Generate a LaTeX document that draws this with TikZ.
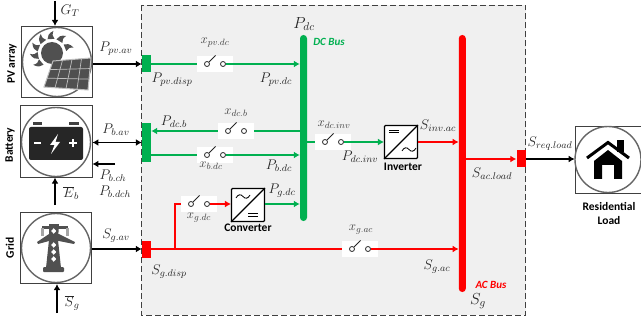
\documentclass[tikz,border=0pt]{standalone}
\usepackage{fix-cm}
\usepackage{fontspec}
\newfontfamily\iconsf{Carlito}
\usepackage{tikz}
\usetikzlibrary{calc,arrows.meta,positioning}
\definecolor{busgreen}{HTML}{00B050}
\definecolor{busred}{HTML}{FF0000}
\definecolor{panelgrey}{HTML}{F0F0F0}
\definecolor{icongrey}{HTML}{505050}

\begin{document}
\begin{tikzpicture}[x=1pt,y=-1pt]

\tikzset{iconbox/.style={draw=black!75,line width=.8pt,fill=white,minimum size=71.5pt,inner sep=0pt,shape=rectangle},
iconring/.style={draw=black!60,line width=1.4pt,fill=white,minimum size=69pt,inner sep=0pt,shape=circle},
port/.style={inner sep=0pt,minimum width=9pt,minimum height=17pt,shape=rectangle},
bus/.style={inner sep=0pt,minimum width=7pt,rounded corners=3.4pt,shape=rectangle},
swbox/.style={fill=white,inner sep=0pt,minimum width=36pt,minimum height=16pt,shape=rectangle},
contact/.style={draw=black!85,fill=white,line width=.8pt,inner sep=0pt,minimum size=5pt,shape=circle},
convbox/.style={draw=black,line width=1.2pt,fill=white,rounded corners=1pt,inner sep=0pt,minimum size=33pt,shape=rectangle},
blackflow/.style={draw=black,line width=1.4pt,-{Latex[length=6pt,width=7pt]}},
greenflow/.style={draw=busgreen,line width=1.3pt,-{Latex[length=6pt,width=7pt]}},
redflow/.style={draw=busred,line width=1.3pt,-{Latex[length=6pt,width=7pt]}},
varlabel/.style={font=\fontsize{14}{16}\selectfont,text=black!85,inner sep=0pt},
swlabel/.style={font=\fontsize{13}{15}\selectfont,text=black!75,inner sep=0pt},
sflabel/.style={font=\iconsf\bfseries\fontsize{11.5}{14}\selectfont,inner sep=0pt,align=center}}

\useasboundingbox (0,0) rectangle (641,321);

% Converter area
\draw[dashed,dash pattern=on 6pt off 3pt,line width=.8pt,draw=black!75,fill=panelgrey] (141,5) rectangle (525.5,315);

% Icon boxes
\node[iconbox] (pv) at (57,62) {};
\node[iconbox] (battery) at (56.3,141.5) {};
\node[iconbox] (grid) at (56,248) {};
\node[draw=black!75,line width=.8pt,fill=white,inner sep=0pt,minimum width=67pt,minimum height=67pt] (homebox) at (608.5,159.5) {};
\node[iconring] (pvring) at (57,62) {};
\node[iconring] (batteryring) at (56,142) {};
\node[iconring] (gridring) at (56,248) {};
\node[iconring,minimum size=66pt] (homering) at (608,159.5) {};

% Sun and solar panel
\fill[icongrey] (52,53) circle (11);
\foreach \a in {22,58,94,128,160,190,220}
  \fill[icongrey,shift={(52,53)},rotate=\a] (14,-3.5) .. controls (17,-3.5) and (20,-2) .. (22,3) .. controls (19,1.5) and (16,1.5) .. (14,3.5) -- cycle;
\coordinate (panelA) at (53,61);
\coordinate (panelB) at (91,58);
\coordinate (panelC) at (88,90);
\coordinate (panelD) at (44,87);
\draw[draw=black!25,fill=icongrey,line width=1pt] (panelA) -- (panelB) -- (panelC) -- (panelD) -- cycle;
\foreach \t in {0.25,0.5,0.75} \draw[draw=black!25,line width=.7pt] ($(panelA)!\t!(panelB)$) -- ($(panelD)!\t!(panelC)$);
\foreach \t in {0.33,0.66} \draw[draw=black!25,line width=.7pt] ($(panelA)!\t!(panelD)$) -- ($(panelB)!\t!(panelC)$);

% Battery icon
\fill[black!85,rounded corners=2pt] (29,127) rectangle (83,160);
\fill[black!75] (33,122) rectangle (42,125);
\fill[black!75] (69,122) rectangle (79,125);
\draw[white,line width=1.6pt] (34,143) -- (41,143);
\draw[white,line width=1.6pt] (69,143) -- (77,143) (73,139) -- (73,147);
\fill[white] (58,134) -- (50,145) -- (54.5,145) -- (51,154) -- (60,142) -- (55.5,142) -- cycle;

% Pylon icon
\fill[icongrey] (49,224) -- (59,224) -- (58,240) -- (61,268) -- (46,268) -- (49,240) -- cycle;
\fill[icongrey,rounded corners=1pt] (43,267) rectangle (64,272);
\fill[icongrey] (42,226) rectangle (68,229);
\fill[icongrey] (49,234) -- (59,234) -- (75,242) -- (74,244) -- (59,241) -- (49,241) -- (38,244) -- (37,242) -- cycle;
\foreach \x in {42,67} \fill[black!35] (\x-1.5,228) rectangle (\x+1.5,236);
\foreach \y in {231,245,252,259} \fill[white] (53.7,\y-2.8) -- (56.2,\y) -- (53.7,\y+2.8) -- (51.2,\y) -- cycle;

% House icon
\fill[black] (617,140) rectangle (624,152);
\draw[black,line width=3pt] (587,158) -- (608,142.5) -- (629,158);
\fill[black] (608,150) -- (622,161) -- (622,179) -- (614,179) -- (614,165) -- (602,165) -- (602,179) -- (594,179) -- (594,161) -- cycle;

% Ports and buses
\node[port,fill=busgreen] (pvport) at (146.5,64) {};
\node[port,fill=busgreen,minimum height=39pt] (batteryport) at (146.5,142.5) {};
\node[port,fill=busred] (gridport) at (146.5,249) {};
\node[port,fill=busred] (homeport) at (521,159) {};
\node[bus,fill=busgreen,minimum height=186pt] (dcbus) at (303.5,128) {};
\node[bus,fill=busred,minimum height=257pt] (acbus) at (462.3,163.5) {};

% Switches
\foreach \name/\x/\y in {swpvdc/215/64,swdcb/236/131,swbdc/215/155,swdcinv/333/142,swgdc/199/204,swgac/360/249}
{
  \node[swbox] (\name) at (\x,\y) {};
  \node[contact] (\name l) at ($(\name)+(-8,0)$) {};
  \node[contact] (\name r) at ($(\name)+(8,0)$) {};
  \draw[black!85,line width=.8pt] (\name l.north east) -- +(6.5,-6.5);
}

% Converter and inverter
\node[convbox] (conv) at (248,205) {};
\node[convbox] (inv) at (401,142) {};
\draw[line width=1.1pt] (conv.south west) -- (conv.north east);
\draw[line width=1.1pt] (inv.south west) -- (inv.north east);
\draw[line width=.8pt] (236,198) .. controls (238,194) and (241,194) .. (243,196.5) .. controls (245,199) and (248,199) .. (250,195);
\draw[line width=.8pt] (248,213.5) -- (258,213.5) (248,216) -- (258,216);
\draw[line width=.8pt] (389,130) -- (399,130) (389,132.5) -- (399,132.5);
\draw[line width=.8pt] (402,151) .. controls (404,147) and (407,147) .. (409,149.5) .. controls (411,152) and (414,152) .. (416,148);

% Edges
\coordinate (gtop) at (55,1);
\coordinate (ebot) at (55,205);
\coordinate (sbot) at (57,313);
\coordinate (chargeend) at (115,164);
\draw[blackflow] (gtop) -- (gtop |- pv.north);
\draw[blackflow] (ebot) -- (ebot |- battery.south);
\draw[blackflow] (sbot) -- (sbot |- grid.south);
\draw[blackflow] (chargeend) -- (chargeend -| battery.east);
\draw[blackflow] (pv.east |- pvport) -- (pvport.west);
\draw[blackflow,{Latex[length=6pt,width=7pt]}-{Latex[length=6pt,width=7pt]}] (battery.east |- batteryport) -- (batteryport.west);
\draw[blackflow] (grid.east |- gridport) -- (gridport.west);
\draw[blackflow] (homeport.east) -- (homebox.west |- homeport);

\draw[draw=busgreen,line width=1.3pt] (pvport.east) -- (swpvdc.west);
\draw[greenflow] (swpvdcr) -- (swpvdcr -| dcbus.west);
\draw[draw=busgreen,line width=1.3pt] (swdcb.east) -- (dcbus.west |- swdcb);
\draw[greenflow] (swdcb.west) -- (swdcb.west -| batteryport.east);
\draw[draw=busgreen,line width=1.3pt] (batteryport.east |- swbdc) -- (swbdc.west);
\draw[greenflow] (swbdcr) -- (swbdcr -| dcbus.west);
\draw[draw=busgreen,line width=1.3pt] (dcbus.east |- swdcinv) -- (swdcinv.west);
\draw[greenflow] (swdcinvr) -- (inv.west);
\draw[redflow] (inv.east) -- (inv.east -| acbus.west);
\draw[greenflow] (conv.east |- swgdc) -- (swgdc -| dcbus.west);
\draw[draw=busred,line width=1.3pt] (gridport.east) -- (swgac.west);
\draw[redflow] (swgacr) -- (swgacr -| acbus.west);
\coordinate (gridtap) at (175,249);
\draw[draw=busred,line width=1.3pt] (gridtap) |- (swgdc.west);
\draw[redflow] (swgdcr) -- (conv.west |- swgdc);
\draw[redflow] (acbus.east |- homeport) -- (homeport.west);

% Labels
\node[varlabel] (gtlabel) at (70,11) {$G_T$};
\node[varlabel] (ppvav) at (116,49) {$P_{pv.av}$};
\node[varlabel] (ppvdisp) at (172,80) {$P_{pv.disp}$};
\node[varlabel] (ppvdc) at (276,80) {$P_{pv.dc}$};
\node[varlabel] (pdc) at (304,24) {\fontsize{16}{18}\selectfont$P_{dc}$};
\node[varlabel] (pdcb) at (174,122) {$P_{dc.b}$};
\node[varlabel] (pbav) at (116,130) {$P_{b.av}$};
\node[varlabel] (pbdc) at (279,166) {$P_{b.dc}$};
\node[varlabel] (pbch) at (113,176) {$P_{b.ch}$};
\node[varlabel] (pbdch) at (115,192) {$P_{b.dch}$};
\node[varlabel] (ebar) at (71,193) {$\overline{E}_b$};
\node[varlabel] (sgbar) at (72,303) {$\overline{S}_g$};
\node[varlabel] (pgdc) at (282,191) {$P_{g.dc}$};
\node[varlabel] (sgav) at (116,236) {$S_{g.av}$};
\node[varlabel] (sgdisp) at (169,272) {$S_{g.disp}$};
\node[varlabel] (pdcinv) at (360,157) {$P_{dc.inv}$};
\node[varlabel] (sinvac) at (438,126) {$S_{inv.ac}$};
\node[varlabel] (sacload) at (492,174) {$S_{ac.load}$};
\node[varlabel] (sreqload) at (550,144) {$S_{req.load}$};
\node[varlabel] (sgac) at (437,267) {$S_{g.ac}$};
\node[varlabel] (sg) at (478,301) {\fontsize{16}{18}\selectfont$S_g$};

\node[swlabel] (xpvdc) at (215,43) {$x_{pv.dc}$};
\node[swlabel] (xdcb) at (236,113) {$x_{dc.b}$};
\node[swlabel] (xbdc) at (211,166) {$x_{b.dc}$};
\node[swlabel] (xdcinv) at (334,125) {$x_{dc.inv}$};
\node[swlabel] (xgdc) at (199,218) {$x_{g.dc}$};
\node[swlabel] (xgac) at (361,230) {$x_{g.ac}$};

\node[sflabel,rotate=90] (pvname) at (12,64) {PV array};
\node[sflabel,rotate=90] (batteryname) at (10,145) {Battery};
\node[sflabel,rotate=90] (gridname) at (10,248) {Grid};
\node[sflabel] (convname) at (248,228) {Converter};
\node[sflabel] (invname) at (403,167) {Inverter};
\node[sflabel,text width=70pt] (homename) at (609,213) {Residential\\Load};
\node[sflabel,text=busgreen,font=\iconsf\bfseries\itshape\fontsize{11}{13}\selectfont] (dcname) at (329,42) {DC Bus};
\node[sflabel,text=busred,font=\iconsf\bfseries\itshape\fontsize{11}{13}\selectfont] (acname) at (491,285) {AC Bus};

\end{tikzpicture}
\end{document}
